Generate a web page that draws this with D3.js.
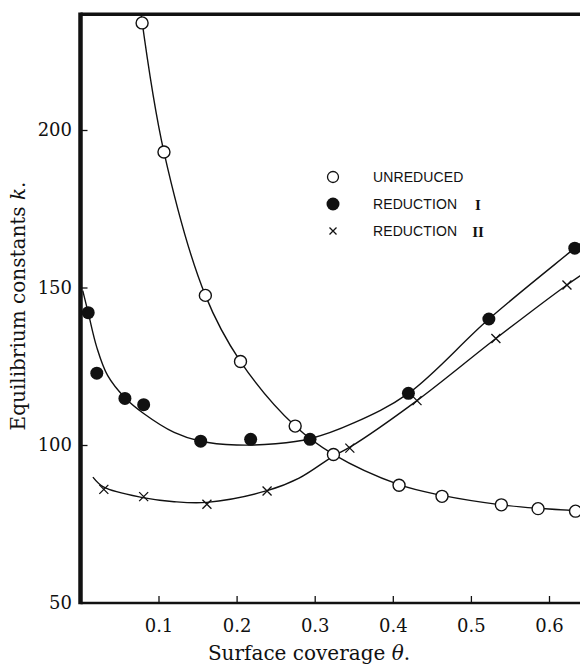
<!DOCTYPE html>
<html>
<head>
<meta charset="utf-8">
<script src="https://cdn.jsdelivr.net/npm/d3@7"></script>
<style>
  body { margin: 0; background: #fff; }
  svg { display: block; }
</style>
</head>
<body>
<div class="canvas"></div>
<script>
// ---- data ----
// unreduced (open circles)
const unreducedTheta = [0.079, 0.107, 0.160, 0.205, 0.275, 0.324, 0.408, 0.463, 0.539, 0.586, 0.634];
const unreducedK = [234, 193, 147.5, 126.5, 106, 97, 87.2, 83.7, 81, 79.8, 79];
// reduction I (filled circles)
const red1Theta = [0.010, 0.021, 0.057, 0.081, 0.154, 0.218, 0.294, 0.420, 0.523, 0.633];
const red1K = [142, 122.8, 114.8, 112.8, 101.2, 101.8, 101.8, 116.4, 140, 162.5];
// reduction II (crosses)
const red2Theta = [0.030, 0.081, 0.162, 0.239, 0.345, 0.431, 0.532, 0.623];
const red2K = [85.9, 83.6, 81.2, 85.4, 99, 114.1, 133.8, 150.8];

// smooth curves drawn through the points
const fitUnreducedTheta = [0.077, 0.107, 0.160, 0.205, 0.275, 0.324, 0.408, 0.463, 0.539, 0.586, 0.66];
const fitUnreducedK = [238, 193, 147.5, 126.5, 106, 97, 87.4, 84, 81, 79.9, 78.8];
const fitRed1Theta = [0.003, 0.010, 0.021, 0.035, 0.057, 0.081, 0.12, 0.154, 0.2, 0.25, 0.294, 0.35, 0.42, 0.523, 0.633, 0.66];
const fitRed1K = [149, 142, 131, 122, 115, 110, 104, 101.2, 100, 100.4, 102, 107, 116.4, 140, 162.5, 168];
const fitRed2Theta = [0.016, 0.030, 0.08, 0.12, 0.162, 0.239, 0.28, 0.324, 0.345, 0.431, 0.532, 0.623, 0.66];
const fitRed2K = [89.8, 86.6, 83.3, 82, 81.8, 85.5, 89.5, 96.5, 99.3, 114.1, 133.8, 150.8, 157];

// ticks
const xTicks = [0.1, 0.2, 0.3, 0.4, 0.5, 0.6];
const yTicks = [50, 100, 150, 200];

// legend
const legendLabels = ["UNREDUCED", "REDUCTION", "REDUCTION"];
const legendNumerals = ["", "I", "II"];
const legendMarkers = ["open", "filled", "cross"];

// ---- layout ----
const w = 580;
const h = 664;
const plot = { left: 80.5, top: 14.3, bottom: 603, right: 580 };

const svg = d3.select(".canvas").append("svg").attr("width", w).attr("height", h);

const x = d3.scaleLinear().domain([0, 0.6]).range([80.4, 549]);
const y = d3.scaleLinear().domain([50, 200]).range([602.5, 130]);

const zip = (a, b) => a.map((v, i) => [v, b[i]]);

// clip for the curves
svg.append("clipPath").attr("id", "plot-clip")
  .append("rect")
  .attr("x", plot.left).attr("y", plot.top)
  .attr("width", plot.right - plot.left).attr("height", plot.bottom - plot.top);

// axes
const serif = "'DejaVu Serif', serif";

const xAxis = svg.append("g")
  .attr("transform", `translate(0, ${plot.bottom})`)
  .call(d3.axisBottom(x).tickValues(xTicks).tickSize(-7).tickPadding(16).tickFormat(d3.format(".1f")));
const yAxis = svg.append("g")
  .attr("transform", `translate(${plot.left}, 0)`)
  .call(d3.axisLeft(y).tickValues(yTicks).tickSize(-7).tickPadding(8.5));

[xAxis, yAxis].forEach((a) => {
  a.select(".domain").remove();
  a.selectAll(".tick line").attr("stroke", "#111").attr("stroke-width", 1.3);
  a.selectAll(".tick text").attr("font-family", serif).attr("font-size", 18).attr("fill", "#111");
});
// 50 sits on the corner, no tick mark needed
yAxis.selectAll(".tick").filter((d) => d === 50).select("line").remove();

// frame lines
svg.append("line").attr("x1", plot.left).attr("x2", plot.right).attr("y1", plot.bottom).attr("y2", plot.bottom)
  .attr("stroke", "#111").attr("stroke-width", 2.5);
svg.append("line").attr("x1", plot.left).attr("x2", plot.right).attr("y1", plot.top).attr("y2", plot.top)
  .attr("stroke", "#111").attr("stroke-width", 3.5);
svg.append("line").attr("x1", plot.left).attr("x2", plot.left).attr("y1", plot.top - 1.7).attr("y2", plot.bottom + 1.2)
  .attr("stroke", "#111").attr("stroke-width", 4.5);

// axis titles
svg.append("text")
  .attr("x", 309).attr("y", 660)
  .attr("text-anchor", "middle")
  .attr("font-family", serif).attr("font-size", 20).attr("fill", "#111")
  .html("Surface coverage <tspan font-style='italic'>θ</tspan>.");

svg.append("text")
  .attr("transform", "translate(25, 306) rotate(-90)")
  .attr("text-anchor", "middle")
  .attr("font-family", serif).attr("font-size", 20).attr("fill", "#111")
  .html("Equilibrium constants <tspan font-style='italic'>k</tspan>.");

// curves
const line = d3.line().x((d) => x(d[0])).y((d) => y(d[1])).curve(d3.curveCatmullRom.alpha(0.5));
const curves = svg.append("g").attr("clip-path", "url(#plot-clip)");
[zip(fitUnreducedTheta, fitUnreducedK), zip(fitRed1Theta, fitRed1K), zip(fitRed2Theta, fitRed2K)].forEach((pts) => {
  curves.append("path")
    .attr("d", line(pts))
    .attr("fill", "none")
    .attr("stroke", "#111")
    .attr("stroke-width", 1.4);
});

// markers
const crossPath = (s) => `M${-s},${-s}L${s},${s}M${-s},${s}L${s},${-s}`;

svg.append("g").selectAll("circle")
  .data(zip(red1Theta, red1K))
  .enter().append("circle")
  .attr("cx", (d) => x(d[0])).attr("cy", (d) => y(d[1]))
  .attr("r", 6.5).attr("fill", "#111");

svg.append("g").selectAll("path")
  .data(zip(red2Theta, red2K))
  .enter().append("path")
  .attr("transform", (d) => `translate(${x(d[0])}, ${y(d[1])})`)
  .attr("d", crossPath(4.5))
  .attr("stroke", "#111").attr("stroke-width", 1.3).attr("fill", "none");

svg.append("g").selectAll("circle")
  .data(zip(unreducedTheta, unreducedK))
  .enter().append("circle")
  .attr("cx", (d) => x(d[0])).attr("cy", (d) => y(d[1]))
  .attr("r", 6).attr("fill", "#fff").attr("stroke", "#111").attr("stroke-width", 1.4);

// legend
const legend = svg.append("g").attr("transform", "translate(333, 177)");
const rowH = 27;
legendMarkers.forEach((m, i) => {
  const g = legend.append("g").attr("transform", `translate(0, ${i * rowH})`);
  if (m === "open") {
    g.append("circle").attr("r", 5.5).attr("fill", "#fff").attr("stroke", "#111").attr("stroke-width", 1.3);
  } else if (m === "filled") {
    g.append("circle").attr("r", 6.5).attr("fill", "#111");
  } else {
    g.append("path").attr("d", crossPath(3.5)).attr("stroke", "#111").attr("stroke-width", 1.3);
  }
  g.append("text")
    .attr("x", 40).attr("y", 5)
    .attr("font-family", "'Liberation Sans', Arial, sans-serif")
    .attr("font-size", 14).attr("letter-spacing", 0.1).attr("fill", "#111")
    .text(legendLabels[i]);
  g.append("text")
    .attr("x", 145).attr("y", 5.5)
    .attr("text-anchor", "middle")
    .attr("font-family", "'Liberation Serif', serif")
    .attr("font-size", 15).attr("font-weight", "bold").attr("fill", "#111")
    .text(legendNumerals[i]);
});
</script>
</body>
</html>
